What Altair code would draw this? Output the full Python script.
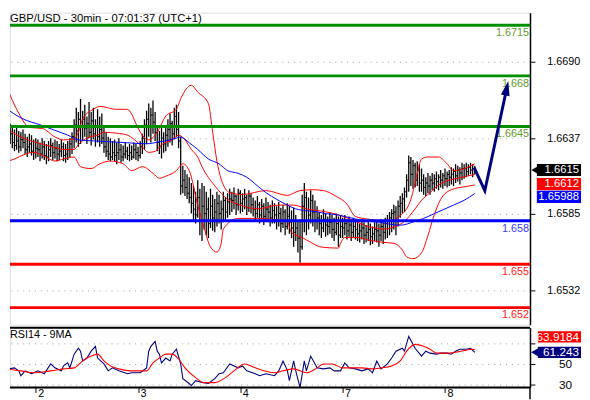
import altair as alt
import pandas as pd

TITLE = "GBP/USD - 30min - 07:01:37 (UTC+1)"
RSI_TITLE = "RSI14 - 9MA"
FONT = "Liberation Sans"

# ---- 30-minute OHLC bars (bar index 0..220) ----
HIGH = [1.6654,1.6650,1.6647,1.6646,1.6643,
        1.6645,1.6642,1.6641,1.6643,1.6640,1.6638,1.6640,1.6639,1.6636,1.6637,
        1.6636,1.6634,1.6637,1.6635,1.6633,1.6635,1.6637,1.6634,1.6636,1.6635,1.6633,1.6636,1.6634,1.6633,1.6635,1.6637,
        1.6641,1.6650,1.6658,1.6655,1.6664,
        1.6656,1.6660,1.6652,1.6662,1.6655,1.6658,1.6650,1.6657,1.6652,1.6654,
        1.6645,1.6641,1.6638,1.6637,1.6635,
        1.6636,1.6634,1.6637,1.6633,1.6632,1.6634,1.6631,1.6633,1.6632,1.6634,
        1.6633,1.6631,1.6635,1.6640,1.6650,
        1.6656,1.6661,1.6658,1.6663,1.6655,
        1.6646,1.6642,1.6644,1.6641,1.6645,
        1.6650,1.6654,1.6649,1.6658,1.6660,
        1.6655,1.6638,
        1.6618,1.6615,1.6612,1.6610,
        1.6606,1.6604,1.6600,1.6608,1.6602,1.6606,
        1.6604,1.6600,1.6596,1.6602,1.6598,1.6595,
        1.6600,1.6598,1.6594,1.6600,1.6596,1.6599,1.6602,
        1.6600,1.6603,1.6598,1.6602,1.6601,1.6599,1.6602,1.6598,1.6601,1.6599,
        1.6596,1.6594,1.6597,1.6593,1.6595,1.6592,1.6596,1.6593,1.6591,1.6594,
        1.6592,1.6590,1.6593,1.6589,1.6591,1.6588,1.6592,1.6590,1.6587,1.6589,
        1.6584,1.6580,1.6581,
        1.6598,1.6606,1.6600,
        1.6596,1.6601,1.6598,1.6594,1.6590,
        1.6586,1.6584,1.6588,1.6585,1.6583,1.6586,1.6584,1.6582,1.6585,1.6583,1.6584,
        1.6582,1.6584,1.6581,1.6583,1.6580,1.6582,1.6581,
        1.6580,1.6578,1.6581,1.6579,1.6577,1.6580,1.6578,1.6576,1.6579,
        1.6580,1.6578,1.6581,1.6579,1.6582,1.6584,1.6586,1.6588,1.6591,
        1.6590,1.6594,1.6597,1.6599,
        1.6603,1.6612,1.6625,
        1.6624,1.6622,1.6620,1.6621,1.6619,
        1.6616,1.6612,1.6610,1.6613,1.6611,
        1.6613,1.6612,1.6614,1.6612,1.6615,1.6613,1.6616,1.6614,1.6615,
        1.6617,1.6616,1.6619,1.6618,1.6617,1.6620,
        1.6619,1.6620,1.6619,1.6620,1.6619,1.6618]
LOW = [1.6634,1.6631,1.6633,1.6630,1.6628,
       1.6629,1.6627,1.6628,1.6630,1.6626,1.6624,1.6627,1.6625,1.6622,1.6623,
       1.6624,1.6621,1.6623,1.6622,1.6619,1.6621,1.6624,1.6622,1.6623,1.6621,1.6622,1.6624,1.6621,1.6620,1.6622,1.6624,
       1.6626,1.6630,1.6634,1.6631,1.6633,
       1.6635,1.6638,1.6633,1.6637,1.6632,1.6636,1.6631,1.6634,1.6631,1.6633,
       1.6627,1.6624,1.6622,1.6621,1.6622,
       1.6621,1.6619,1.6622,1.6620,1.6621,1.6623,1.6622,1.6621,1.6622,1.6623,
       1.6622,1.6621,1.6623,1.6626,1.6629,
       1.6633,1.6638,1.6634,1.6640,1.6635,
       1.6628,1.6626,1.6623,1.6627,1.6628,
       1.6631,1.6634,1.6632,1.6636,1.6638,
       1.6630,1.6598,
       1.6599,1.6597,1.6595,1.6592,
       1.6585,1.6580,1.6578,1.6582,1.6570,1.6566,
       1.6574,1.6570,1.6568,1.6575,1.6573,1.6572,
       1.6576,1.6578,1.6574,1.6579,1.6580,1.6582,1.6584,
       1.6586,1.6588,1.6584,1.6587,1.6585,1.6586,1.6588,1.6584,1.6586,1.6585,
       1.6583,1.6580,1.6582,1.6578,1.6581,1.6577,1.6580,1.6579,1.6576,1.6578,
       1.6578,1.6574,1.6576,1.6572,1.6575,1.6570,1.6574,1.6571,1.6568,1.6562,
       1.6566,1.6558,1.6551,
       1.6560,1.6572,1.6570,
       1.6574,1.6578,1.6576,1.6572,1.6574,
       1.6570,1.6568,1.6572,1.6569,1.6570,1.6571,1.6568,1.6566,1.6570,1.6562,1.6568,
       1.6568,1.6570,1.6567,1.6569,1.6566,1.6568,1.6567,
       1.6566,1.6565,1.6567,1.6564,1.6565,1.6566,1.6563,1.6564,1.6566,
       1.6565,1.6562,1.6566,1.6564,1.6567,1.6568,1.6570,1.6572,1.6574,
       1.6570,1.6576,1.6582,1.6585,
       1.6586,1.6596,1.6600,
       1.6604,1.6602,1.6603,1.6604,1.6600,
       1.6600,1.6598,1.6597,1.6599,1.6598,
       1.6601,1.6600,1.6602,1.6601,1.6603,1.6602,1.6604,1.6603,1.6604,
       1.6605,1.6604,1.6606,1.6607,1.6605,1.6608,
       1.6609,1.6610,1.6611,1.6612,1.6610,1.6612]
CLOSE = [1.6640,1.6637,1.6640,1.6634,1.6632,
         1.6635,1.6631,1.6636,1.6634,1.6629,1.6631,1.6633,1.6628,1.6627,1.6630,
         1.6629,1.6626,1.6631,1.6625,1.6624,1.6629,1.6632,1.6627,1.6630,1.6626,1.6628,1.6631,1.6625,1.6626,1.6629,1.6633,
         1.6638,1.6646,1.6642,1.6650,1.6645,
         1.6650,1.6644,1.6647,1.6641,1.6649,1.6640,1.6645,1.6638,1.6643,1.6637,
         1.6631,1.6628,1.6626,1.6624,1.6627,
         1.6625,1.6627,1.6629,1.6624,1.6626,1.6628,1.6625,1.6627,1.6624,1.6629,
         1.6627,1.6625,1.6631,1.6637,1.6646,
         1.6650,1.6645,1.6653,1.6648,1.6641,
         1.6634,1.6631,1.6637,1.6633,1.6639,
         1.6643,1.6647,1.6640,1.6652,1.6643,
         1.6635,1.6604,
         1.6608,1.6603,1.6599,1.6596,
         1.6592,1.6588,1.6584,1.6596,1.6580,1.6590,
         1.6585,1.6588,1.6578,1.6590,1.6582,1.6586,
         1.6592,1.6585,1.6588,1.6594,1.6586,1.6593,1.6595,
         1.6594,1.6597,1.6591,1.6599,1.6592,1.6595,1.6596,1.6589,1.6597,1.6591,
         1.6588,1.6585,1.6591,1.6584,1.6590,1.6583,1.6588,1.6586,1.6582,1.6587,
         1.6584,1.6580,1.6585,1.6578,1.6586,1.6576,1.6583,1.6579,1.6575,1.6572,
         1.6575,1.6568,1.6562,
         1.6590,1.6596,1.6580,
         1.6584,1.6594,1.6586,1.6580,1.6582,
         1.6578,1.6575,1.6581,1.6577,1.6576,1.6579,1.6574,1.6572,1.6578,1.6570,1.6576,
         1.6575,1.6578,1.6573,1.6577,1.6572,1.6576,1.6574,
         1.6571,1.6573,1.6575,1.6570,1.6572,1.6574,1.6569,1.6571,1.6574,
         1.6573,1.6570,1.6576,1.6572,1.6578,1.6580,1.6582,1.6585,1.6586,
         1.6580,1.6590,1.6592,1.6595,
         1.6600,1.6608,1.6620,
         1.6612,1.6618,1.6608,1.6615,1.6606,
         1.6608,1.6603,1.6606,1.6604,1.6608,
         1.6606,1.6609,1.6607,1.6610,1.6608,1.6611,1.6609,1.6612,1.6610,
         1.6612,1.6614,1.6611,1.6615,1.6613,1.6616,
         1.6616,1.6614,1.6617,1.6615,1.6616,1.6615]
FIRST_OPEN = 1.6642

# ---- Bollinger bands and moving average (bar index, price) ----
UPPER_X = [0,6,11,17,23,27,32,34,36,41,44,52,57,59,61,64,67,71,75,80,
           82,87,90,95,97,99,101,105,111,122,132,138,144,149,155,160,164,171,180,185,
           188,190,193,195,198,203,207,210,215,220]
UPPER_V = [1.66735,1.66543,1.66444,1.66437,1.66378,1.66358,1.66365,1.66411,1.66503,1.66569,
           1.66589,1.66569,1.66569,1.66536,1.66470,1.66391,1.66358,1.66411,1.66523,1.66569,
           1.66642,1.66735,1.66688,1.66609,1.66411,1.66212,1.66087,1.65994,1.65981,1.66008,
           1.65975,1.66008,1.66014,1.66008,1.65968,1.65915,1.65829,1.65809,1.65796,1.65836,
           1.65882,1.65948,1.66127,1.66226,1.66240,1.66240,1.66193,1.66146,1.66160,1.66193]
MID_X = [0,3,7,13,18,23,27,32,34,38,43,46,52,57,63,67,70,73,78,81,
         84,87,90,92,98,104,110,118,128,135,141,150,157,164,171,178,182,187,192,195,
         199,203,208,212,220]
MID_V = [1.66444,1.66411,1.66378,1.66345,1.66325,1.66305,1.66292,1.66292,1.66325,1.66371,
         1.66391,1.66411,1.66404,1.66391,1.66325,1.66272,1.66279,1.66325,1.66358,1.66391,
         1.66358,1.66292,1.66239,1.66173,1.66041,1.65948,1.65908,1.65882,1.65908,1.65908,
         1.65882,1.65862,1.65836,1.65796,1.65756,1.65743,1.65756,1.65796,1.65882,1.65941,
         1.65994,1.66047,1.66080,1.66093,1.66120]
LOWER_X = [0,4,9,13,18,23,27,32,35,40,44,49,55,59,64,69,72,75,80,83,
           86,90,93,96,99,101,102,109,118,125,132,134,139,143,148,156,157,159,165,171,
           177,182,186,188,191,195,198,201,204,209,215,220]
LOWER_V = [1.66206,1.66226,1.66259,1.66272,1.66246,1.66212,1.66226,1.66239,1.66173,1.66160,
           1.66193,1.66212,1.66193,1.66146,1.66173,1.66127,1.66093,1.66107,1.66146,1.66193,
           1.66146,1.65908,1.65750,1.65618,1.65584,1.65644,1.65743,1.65816,1.65816,1.65809,
           1.65796,1.65717,1.65684,1.65651,1.65618,1.65611,1.65644,1.65684,1.65684,1.65664,
           1.65651,1.65644,1.65598,1.65551,1.65538,1.65578,1.65697,1.65842,1.65948,1.66014,
           1.66034,1.66047]
MA_X = [0,7,17,23,29,34,41,49,57,66,72,77,80,82,86,90,95,100,104,109,
        113,118,122,127,132,136,141,146,150,155,159,165,170,176,180,185,192,196,201,205,
        210,215,220]
MA_V = [1.66576,1.66510,1.66457,1.66424,1.66391,1.66358,1.66351,1.66345,1.66338,1.66331,
        1.66345,1.66358,1.66371,1.66378,1.66338,1.66292,1.66226,1.66193,1.66146,1.66127,
        1.66100,1.66041,1.65994,1.65948,1.65908,1.65882,1.65869,1.65862,1.65849,1.65842,
        1.65829,1.65809,1.65796,1.65789,1.65776,1.65769,1.65796,1.65816,1.65849,1.65875,
        1.65908,1.65941,1.65988]

# ---- RSI(14) and its 9-period MA ----
RSI_X = [0,1,4,6,7,9,12,15,17,18,21,23,26,27,29,30,32,34,35,36,38,40,42,43,46,48,50,53,57,59,
         63,66,67,68,70,71,72,73,75,77,78,80,82,83,86,87,89,92,95,98,100,102,105,109,111,113,117,119,122,126,
         128,130,132,133,135,136,138,140,141,143,146,149,152,154,157,159,161,164,167,170,
         172,174,176,179,181,183,186,187,189,191,192,195,197,199,202,204,207,209,211,213,216,218,220]
RSI_V = [50.0,45.2,46.2,43.3,38.6,43.3,40.5,43.3,41.4,40.5,
         50.0,46.2,43.3,48.1,51.0,46.2,59.5,65.2,62.4,52.9,
         55.7,62.4,67.1,55.7,50.0,43.3,46.2,43.3,40.5,41.4,
         41.4,46.2,62.4,67.1,71.9,62.4,59.5,51.0,55.7,52.9,
         59.5,64.3,50.0,35.7,31.0,29.0,33.8,31.9,31.0,35.7,
         40.5,41.4,50.0,46.2,48.1,43.3,40.5,38.6,40.5,38.6,
         43.3,52.9,44.0,33.8,52.9,43.3,27.1,52.9,43.3,57.6,
         46.2,45.2,46.2,43.3,43.3,51.0,46.2,45.2,43.3,45.2,
         41.4,52.9,45.2,50.0,55.7,62.4,65.2,62.4,76.7,69.0,
         65.2,57.6,62.4,60.5,59.5,60.5,60.5,59.5,62.4,64.3,
         64.3,65.2,61.2]
RSIMA_X = [0,7,13,21,27,32,36,40,43,46,49,53,59,66,69,72,75,78,81,84,89,93,98,103,107,112,117,121,126,130,
           135,141,146,149,153,158,163,167,172,176,181,185,188,192,196,199,202,207,211,216,218,220]
RSIMA_V = [45.2,43.3,41.4,43.3,45.2,46.2,52.9,57.6,59.5,52.9,
           48.1,45.2,43.3,43.3,51.0,55.7,59.5,59.5,54.8,46.2,
           36.7,31.9,31.9,36.7,43.3,50.0,46.2,43.3,41.4,43.3,
           45.2,41.4,46.2,50.0,50.0,46.2,46.2,46.2,45.2,46.2,
           48.1,52.9,62.4,69.0,67.1,64.3,60.5,60.5,61.4,63.3,
           64.3,63.9]

# ---- annotations ----
LEVELS = [1.6715, 1.668, 1.6645, 1.658, 1.655, 1.652]
LEVEL_TEXT = ["1.6715", "1.668", "1.6645", "1.658", "1.655", "1.652"]
LEVEL_LINE_COLORS = ["#008f00", "#008f00", "#008f00", "#0000ff", "#ff0000", "#ff0000"]
LEVEL_TEXT_COLORS = ["#5f9a2c", "#5f9a2c", "#5f9a2c", "#3c3cff", "#ff2020", "#ff2020"]
PRICE_TICKS = [1.6532, 1.6585, 1.6637, 1.6690]
RSI_TICKS = [30, 50, 70]
DAY_TICKS = [14, 62, 110, 158, 206]
DAY_LABELS = ["2", "3", "4", "7", "8"]
ARROW_X = [219.7, 224.7, 235.0]
ARROW_P = [1.66166, 1.66007, 1.66715]
PRICE_BADGES = [("1.6615", 1.6615, "#000000", 0, True),
                ("1.6612", 1.6612, "#ff0000", 10, False),
                ("1.65988", 1.65988, "#0000ff", 3.5, False)]
RSI_BADGES = [("63.9184", 63.9184, "#ff0000", -13, False),
              ("61.243", 61.243, "#000080", 0, True)]

# ---- layout ----
W = 530
H = 318
HR = 61
X_DOM = [1.89, 245.9]
P_DOM = [1.65082, 1.67236]
R_DOM = [27.1, 85.2]

xs = alt.Scale(domain=X_DOM, nice=False, zero=False)
ps = alt.Scale(domain=P_DOM, nice=False, zero=False)
rs = alt.Scale(domain=R_DOM, nice=False, zero=False)

price_axis = alt.Axis(orient="right", values=PRICE_TICKS, format=".4f", title=None,
                      tickSize=5, tickColor="black", tickWidth=1,
                      domainColor="black", domainWidth=1.5,
                      labelPadding=12, labelFont=FONT, labelFontSize=11, labelColor="black",
                      labelOverlap=False, labelBound=False, labelFlush=False,
                      grid=True, gridColor="#a0a0a0", gridDash=[1, 5], gridWidth=1)
label_expr = " : ".join(f"datum.value == {v} ? '{l}'" for v, l in zip(DAY_TICKS, DAY_LABELS)) + " : ''"
day_axis = alt.Axis(values=DAY_TICKS, labelExpr=label_expr, title=None, domain=False, grid=False,
                    tickSize=5, tickColor="black", tickWidth=1,
                    labelAlign="left", labelBaseline="alphabetic", labelPadding=4, labelOffset=2,
                    labelFont=FONT, labelFontSize=11, labelColor="black",
                    labelOverlap=False, labelBound=False, labelFlush=False)
rsi_axis = alt.Axis(orient="right", values=RSI_TICKS, title=None,
                    labelExpr="datum.value == 70 ? '' : datum.label",
                    tickSize=5, tickColor="black", tickWidth=1,
                    domainColor="black", domainWidth=1.5,
                    labelPadding=24, labelFont=FONT, labelFontSize=12, labelColor="black",
                    labelOverlap=False, labelBound=False, labelFlush=False,
                    grid=True, gridColor="#a0a0a0", gridDash=[1, 5], gridWidth=1)


def XQ(f):
    return alt.X(f, type="quantitative", scale=xs, axis=None)


def XR(f):
    return alt.X(f, type="quantitative", scale=xs, axis=day_axis)


def PQ(f):
    return alt.Y(f, type="quantitative", scale=ps, axis=price_axis)


def RQ(f):
    return alt.Y(f, type="quantitative", scale=rs, axis=rsi_axis)


n = len(CLOSE)
bars = pd.DataFrame({
    "i": list(range(n)),
    "high": HIGH, "low": LOW, "close": CLOSE,
    "open": [FIRST_OPEN] + CLOSE[:-1],
})
bars["il"] = bars["i"] - 0.55
bars["ir"] = bars["i"] + 0.55

bands = pd.concat([
    pd.DataFrame({"i": UPPER_X, "v": UPPER_V, "s": "upper"}),
    pd.DataFrame({"i": MID_X, "v": MID_V, "s": "middle"}),
    pd.DataFrame({"i": LOWER_X, "v": LOWER_V, "s": "lower"}),
    pd.DataFrame({"i": MA_X, "v": MA_V, "s": "ma"}),
])
levels = pd.DataFrame({"p": LEVELS, "t": LEVEL_TEXT, "lc": LEVEL_LINE_COLORS, "tc": LEVEL_TEXT_COLORS})
arrow = pd.DataFrame({"i": ARROW_X, "p": ARROW_P, "k": [0, 1, 2]})
head = arrow.tail(1)

hl = alt.Chart(bars).mark_rule(color="black", strokeWidth=1.3, clip=True).encode(
    x=XQ("i"), y=PQ("low"), y2="high:Q")
op = alt.Chart(bars).mark_rule(color="black", strokeWidth=1, clip=True).encode(
    x=XQ("il"), x2="i:Q", y=PQ("open"))
cl = alt.Chart(bars).mark_rule(color="black", strokeWidth=1, clip=True).encode(
    x=XQ("i"), x2="ir:Q", y=PQ("close"))
band_lines = alt.Chart(bands).mark_line(strokeWidth=1, clip=True, interpolate="monotone").encode(
    x=XQ("i"), y=PQ("v"), detail="s:N",
    color=alt.Color("s:N", scale=alt.Scale(domain=["upper", "middle", "lower", "ma"],
                                           range=["#ff0000", "#ff0000", "#ff0000", "#0000ff"]),
                    legend=None))
level_rules = alt.Chart(levels).mark_rule(strokeWidth=3).encode(
    x=alt.value(0), x2=alt.value(W), y=PQ("p"), color=alt.Color("lc:N", scale=None))
level_text = alt.Chart(levels).mark_text(align="right", baseline="middle", dy=8,
                                         font=FONT, fontSize=11).encode(
    x=alt.value(W - 1), y=PQ("p"), text="t:N", color=alt.Color("tc:N", scale=None))
arrow_line = alt.Chart(arrow).mark_line(color="#00007f", strokeWidth=3).encode(
    x=XQ("i"), y=PQ("p"), order="k:O")
arrow_head = alt.Chart(head).mark_point(shape="M0,-1L0.6,1L-0.6,1Z", size=225, filled=True,
                                        color="#00007f", opacity=1, angle=12, strokeWidth=0).encode(
    x=XQ("i"), y=PQ("p"))
title = alt.Chart(pd.DataFrame({"t": [TITLE]})).mark_text(
    align="left", baseline="middle", font=FONT, fontSize=11.5, color="black").encode(
    x=alt.value(0), y=alt.value(6), text="t:N")

main_layers = [hl, op, cl, band_lines, level_rules, level_text, arrow_line, arrow_head, title]

P_HALF = 0.00042
for txt, val, col, off, pointer in PRICE_BADGES:
    d = pd.DataFrame({"t": [txt], "v": [val], "top": [val + P_HALF], "bot": [val - P_HALF]})
    main_layers.append(alt.Chart(d).mark_rect(color=col, yOffset=off, y2Offset=off).encode(
        x=alt.value(W + 7), x2=alt.value(W + 52), y=PQ("top"), y2="bot:Q"))
    if pointer:
        main_layers.append(alt.Chart(d).mark_point(shape="triangle-left", size=70, filled=True,
                                                   opacity=1, color=col, yOffset=off).encode(
            x=alt.value(W + 5), y=PQ("v")))
    main_layers.append(alt.Chart(d).mark_text(color="white", align="right", baseline="middle",
                                              font=FONT, fontSize=11.5, yOffset=off).encode(
        x=alt.value(W + 50), y=PQ("v"), text="t:N"))

main = alt.layer(*main_layers).properties(width=W, height=H)

# ---- RSI panel ----
rsi = pd.DataFrame({"i": RSI_X, "v": RSI_V})
rsima = pd.DataFrame({"i": RSIMA_X, "v": RSIMA_V})

rsi_line = alt.Chart(rsi).mark_line(color="#000080", strokeWidth=1.1, clip=True).encode(
    x=XR("i"), y=RQ("v"))
rsima_line = alt.Chart(rsima).mark_line(color="#ff0000", strokeWidth=1.1, clip=True,
                                        interpolate="monotone").encode(x=XR("i"), y=RQ("v"))
top_border = alt.Chart(pd.DataFrame({"a": [0]})).mark_rule(color="black", strokeWidth=2).encode(
    x=alt.value(0), x2=alt.value(W), y=alt.value(0))
bottom_border = alt.Chart(pd.DataFrame({"a": [0]})).mark_rule(color="black", strokeWidth=2).encode(
    x=alt.value(0), x2=alt.value(W), y=alt.value(HR))
vert_ext = alt.Chart(pd.DataFrame({"a": [0]})).mark_rule(color="black", strokeWidth=1.5).encode(
    x=alt.value(W), y=alt.value(HR), y2=alt.value(HR + 12))
rsi_title = alt.Chart(pd.DataFrame({"t": [RSI_TITLE]})).mark_text(
    align="left", baseline="middle", font=FONT, fontSize=11, color="black").encode(
    x=alt.value(0), y=alt.value(8), text="t:N")

rsi_layers = [rsi_line, rsima_line, top_border, bottom_border, vert_ext, rsi_title]
R_HALF = 5.5
for txt, val, col, off, pointer in RSI_BADGES:
    d = pd.DataFrame({"t": [txt], "v": [val], "top": [val + R_HALF], "bot": [val - R_HALF]})
    rsi_layers.append(alt.Chart(d).mark_rect(color=col, yOffset=off, y2Offset=off).encode(
        x=alt.value(W + 8), x2=alt.value(W + 52), y=RQ("top"), y2="bot:Q"))
    if pointer:
        rsi_layers.append(alt.Chart(d).mark_point(shape="triangle-left", size=80, filled=True,
                                                  opacity=1, color=col, yOffset=off).encode(
            x=alt.value(W + 5), y=RQ("v")))
    rsi_layers.append(alt.Chart(d).mark_text(color="white", align="right", baseline="middle",
                                             font=FONT, fontSize=12, yOffset=off).encode(
        x=alt.value(W + 50), y=RQ("v"), text="t:N"))

rsi_panel = alt.layer(*rsi_layers).properties(width=W, height=HR)

chart = alt.vconcat(main, rsi_panel, spacing=0).properties(padding=0).configure_view(
    strokeWidth=0).configure(background="white")

chart.save("out.html", embed_options={"renderer": "svg", "actions": False})
